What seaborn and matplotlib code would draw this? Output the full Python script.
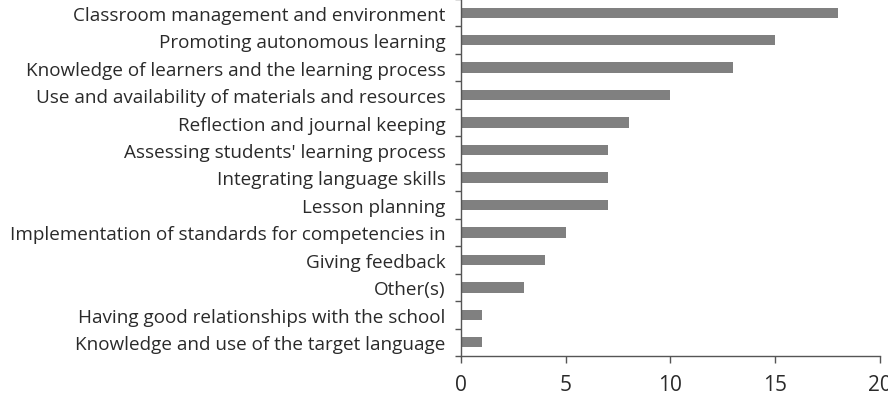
import matplotlib
matplotlib.use("Agg")
import matplotlib.pyplot as plt
import numpy as np
import pandas as pd
import seaborn as sns

categories = [
    "Classroom management and environment",
    "Promoting autonomous learning",
    "Knowledge of learners and the learning process",
    "Use and availability of materials and resources",
    "Reflection and journal keeping",
    "Assessing students' learning process",
    "Integrating language skills",
    "Lesson planning",
    "Implementation of standards for competencies in",
    "Giving feedback",
    "Other(s)",
    "Having good relationships with the school",
    "Knowledge and use of the target language",
]
counts = [18, 15, 13, 10, 8, 7, 7, 7, 5, 4, 3, 1, 1]
x_ticks = [0, 5, 10, 15, 20]

df = pd.DataFrame({"category": categories, "count": counts})

sns.set_style("white")
plt.rcParams["font.family"] = ["Open Sans", "DejaVu Sans"]

fig = plt.figure(figsize=(8.88, 4.02), dpi=100)
ax = fig.add_axes([0.519, 0.112, 0.472, 0.888])

sns.barplot(data=df, x="count", y="category", orient="h", color="#808080",
            saturation=1, width=0.38, linewidth=0, ax=ax)

ax.set_xlim(0, 20)
ax.set_ylim(len(categories) - 0.5, -0.5)
ax.set_xticks(x_ticks)
ax.set_xlabel("")
ax.set_ylabel("")

for side in ["top", "right"]:
    ax.spines[side].set_visible(False)
for side in ["left", "bottom"]:
    ax.spines[side].set_color("#555555")
    ax.spines[side].set_linewidth(1.0)

ax.set_yticks(np.arange(len(categories) + 1) - 0.5, minor=True)
ax.tick_params(axis="y", which="major", length=0, pad=11, labelsize=13.6, labelcolor="#2a2a2a")
ax.tick_params(axis="y", which="minor", left=True, length=4, width=1, color="#555555")
ax.tick_params(axis="x", which="major", bottom=True, length=5, width=1, color="#555555",
               pad=8, labelsize=15, labelcolor="#2a2a2a")

fig.savefig("out.png", dpi=100)
